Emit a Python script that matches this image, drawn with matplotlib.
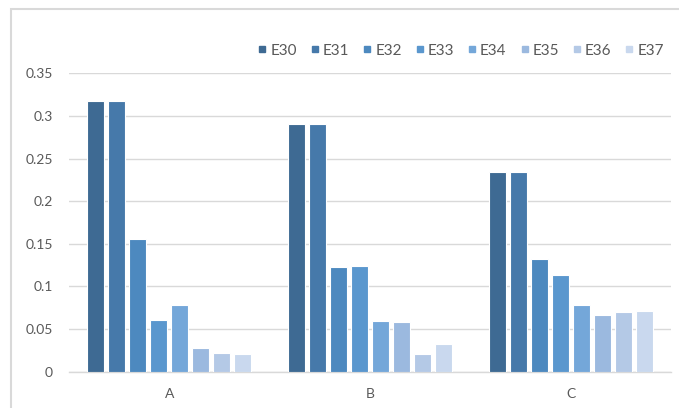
import matplotlib
matplotlib.use("Agg")
import matplotlib.pyplot as plt
from matplotlib.lines import Line2D
from matplotlib.patches import Rectangle
import numpy as np

categories = ["A", "B", "C"]
series_names = ["E30", "E31", "E32", "E33", "E34", "E35", "E36", "E37"]
values = {
    "E30": [0.318, 0.290, 0.234],
    "E31": [0.318, 0.290, 0.234],
    "E32": [0.156, 0.123, 0.132],
    "E33": [0.061, 0.124, 0.113],
    "E34": [0.078, 0.060, 0.078],
    "E35": [0.028, 0.058, 0.066],
    "E36": [0.022, 0.021, 0.070],
    "E37": [0.021, 0.033, 0.071],
}
colors = ["#3E6A93", "#4679AA", "#4D89BF", "#5A97CE",
          "#74A7D9", "#9BB9DF", "#B4C9E6", "#C9D8EE"]
yticks = [0, 0.05, 0.1, 0.15, 0.2, 0.25, 0.3, 0.35]
ytick_labels = ["0", "0.05", "0.1", "0.15", "0.2", "0.25", "0.3", "0.35"]

plt.rcParams["font.family"] = ["Lato", "DejaVu Sans"]
text_color = "#595959"
grid_color = "#D9D9D9"

fig = plt.figure(figsize=(6.79, 4.08), dpi=100)
fig.patch.set_facecolor("white")
ax = fig.add_axes([69 / 679, 36.3 / 408, 602 / 679, 298.4 / 408])

x = np.arange(len(categories))
step = 0.1046
width = 0.085
n = len(series_names)
for i, (name, col) in enumerate(zip(series_names, colors)):
    offs = (i - (n - 1) / 2) * step
    ax.bar(x + offs, values[name], width=width, color=col,
           edgecolor="white", linewidth=0.8, zorder=3)

ax.set_xlim(-0.5, 2.5)
ax.set_ylim(0, 0.35)
ax.set_yticks(yticks)
ax.set_yticklabels(ytick_labels)
ax.set_xticks(x)
ax.set_xticklabels(categories)
ax.tick_params(axis="both", length=0, colors=text_color, labelsize=10)
ax.tick_params(axis="y", pad=11.5)
ax.tick_params(axis="x", pad=12)
ax.yaxis.grid(True, color=grid_color, linewidth=1.0, zorder=0)
for s in ["top", "right", "left"]:
    ax.spines[s].set_visible(False)
ax.spines["bottom"].set_color(grid_color)
ax.spines["bottom"].set_linewidth(1.0)

handles = [Line2D([0], [0], marker="s", linestyle="none", markersize=5,
                  markerfacecolor=c, markeredgecolor=c) for c in colors]
fig.legend(handles, series_names, loc="center right",
           bbox_to_anchor=(664 / 679, 1 - 50.7 / 408), ncol=8,
           frameon=False, fontsize=11, labelcolor=text_color,
           handlelength=0.45, handletextpad=0.3, columnspacing=0.95,
           borderpad=0, borderaxespad=0)

# chart-area border
fig.patches.append(Rectangle((11 / 679, -0.1), 1.2, 1 - 8.5 / 408 + 0.1,
                             transform=fig.transFigure, fill=False,
                             edgecolor=grid_color, linewidth=1.5,
                             clip_on=False))

fig.savefig("out.png", dpi=100, facecolor="white")
